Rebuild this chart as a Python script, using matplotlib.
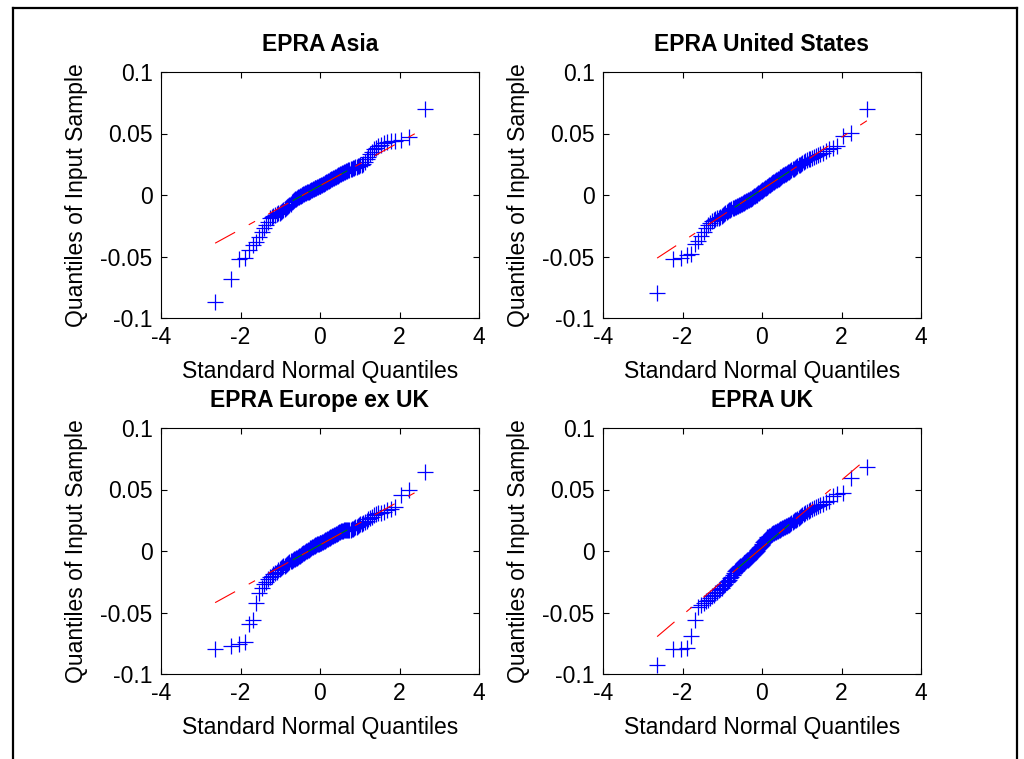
import numpy as np
import matplotlib.pyplot as plt
from matplotlib.lines import Line2D
from statistics import NormalDist

plt.rcParams['font.family'] = ['Liberation Sans', 'DejaVu Sans']
plt.rcParams['lines.scale_dashes'] = False
plt.rcParams['axes.unicode_minus'] = False

# sorted monthly returns (120 obs each)
asia = [-0.087, -0.068, -0.052, -0.0515, -0.045, -0.041, -0.038, -0.034, -0.030, -0.027,
        -0.024, -0.022, -0.019, -0.0175, -0.0170, -0.0165, -0.0158, -0.0150, -0.0145, -0.0138,
        -0.0130, -0.0122, -0.0115, -0.0108, -0.0100, -0.0093, -0.0085, -0.0070, -0.0060, -0.0048,
        -0.0040, -0.0035, -0.0030, -0.0025, -0.0020, -0.0015, -0.0010, -0.0006, -0.0002, 0.0002,
        0.0006, 0.0010, 0.0014, 0.0018, 0.0021, 0.0025, 0.0028, 0.0032, 0.0035, 0.0039,
        0.0042, 0.0046, 0.0049, 0.0053, 0.0056, 0.0060, 0.0063, 0.0067, 0.0070, 0.0074,
        0.0077, 0.0081, 0.0085, 0.0089, 0.0093, 0.0097, 0.0101, 0.0105, 0.0109, 0.0113,
        0.0117, 0.0121, 0.0125, 0.0129, 0.0133, 0.0137, 0.0141, 0.0145, 0.0149, 0.0153,
        0.0157, 0.0161, 0.0165, 0.0169, 0.0173, 0.0177, 0.0181, 0.0185, 0.0189, 0.0193,
        0.0197, 0.0201, 0.0205, 0.0209, 0.0213, 0.0217, 0.0221, 0.0225, 0.0229, 0.0233,
        0.0237, 0.0241, 0.0246, 0.0252, 0.0265, 0.0290, 0.0310, 0.0330, 0.0350, 0.0370,
        0.0385, 0.0400, 0.0410, 0.0420, 0.0430, 0.0438, 0.0442, 0.0450, 0.0470, 0.0700]

usa = [-0.080, -0.052, -0.051, -0.049, -0.048, -0.040, -0.037, -0.033, -0.030, -0.027,
       -0.0245, -0.0225, -0.0215, -0.0205, -0.0198, -0.0190, -0.0183, -0.0176, -0.0168, -0.0160,
       -0.0152, -0.0145, -0.0138, -0.0132, -0.0126, -0.0120, -0.0114, -0.0108, -0.0103, -0.0099,
       -0.0096, -0.0092, -0.0088, -0.0084, -0.0080, -0.0076, -0.0072, -0.0068, -0.0064, -0.0060,
       -0.0056, -0.0052, -0.0048, -0.0044, -0.0040, -0.0036, -0.0031, -0.0026, -0.0021, -0.0016,
       -0.0011, -0.0006, -0.0001, 0.0004, 0.0009, 0.0014, 0.0019, 0.0024, 0.0029, 0.0034,
       0.0039, 0.0044, 0.0049, 0.0054, 0.0059, 0.0064, 0.0069, 0.0074, 0.0079, 0.0084,
       0.0089, 0.0094, 0.0099, 0.0104, 0.0109, 0.0114, 0.0119, 0.0124, 0.0129, 0.0134,
       0.0139, 0.0144, 0.0149, 0.0154, 0.0159, 0.0164, 0.0169, 0.0174, 0.0179, 0.0185,
       0.0191, 0.0197, 0.0203, 0.0209, 0.0215, 0.0221, 0.0227, 0.0233, 0.0240, 0.0247,
       0.0254, 0.0261, 0.0268, 0.0275, 0.0282, 0.0289, 0.0296, 0.0303, 0.0310, 0.0318,
       0.0326, 0.0334, 0.0345, 0.0356, 0.0370, 0.0385, 0.0395, 0.0480, 0.0505, 0.0700]

europe_ex_uk = [-0.080, -0.077, -0.076, -0.074, -0.059, -0.056, -0.042, -0.034, -0.030, -0.027,
                -0.025, -0.023, -0.0215, -0.0200, -0.0188, -0.0177, -0.0167, -0.0158, -0.0150, -0.0142,
                -0.0134, -0.0126, -0.0118, -0.0111, -0.0104, -0.0097, -0.0090, -0.0084, -0.0078, -0.0073,
                -0.0068, -0.0063, -0.0058, -0.0053, -0.0048, -0.0043, -0.0038, -0.0033, -0.0028, -0.0023,
                -0.0018, -0.0013, -0.0008, -0.0003, 0.0002, 0.0007, 0.0012, 0.0017, 0.0022, 0.0027,
                0.0031, 0.0035, 0.0039, 0.0043, 0.0047, 0.0050, 0.0053, 0.0056, 0.0059, 0.0062,
                0.0065, 0.0068, 0.0072, 0.0076, 0.0080, 0.0084, 0.0088, 0.0092, 0.0096, 0.0100,
                0.0104, 0.0108, 0.0112, 0.0116, 0.0120, 0.0124, 0.0128, 0.0132, 0.0136, 0.0140,
                0.0144, 0.0148, 0.0152, 0.0156, 0.0160, 0.0163, 0.0165, 0.0167, 0.0168, 0.0169,
                0.0170, 0.0171, 0.0172, 0.0174, 0.0177, 0.0181, 0.0186, 0.0192, 0.0198, 0.0204,
                0.0210, 0.0216, 0.0222, 0.0228, 0.0234, 0.0240, 0.0258, 0.0270, 0.0280, 0.0290,
                0.0298, 0.0305, 0.0312, 0.0320, 0.0330, 0.0345, 0.0360, 0.0455, 0.0500, 0.0645]

uk = [-0.093, -0.080, -0.0795, -0.079, -0.069, -0.056, -0.0455, -0.0440, -0.0425, -0.0410,
      -0.0395, -0.0380, -0.0368, -0.0355, -0.0343, -0.0331, -0.0320, -0.0309, -0.0298, -0.0287,
      -0.0276, -0.0265, -0.0254, -0.0243, -0.0232, -0.0221, -0.0208, -0.0192, -0.0176, -0.0163,
      -0.0152, -0.0144, -0.0137, -0.0131, -0.0125, -0.0119, -0.0113, -0.0107, -0.0101, -0.0095,
      -0.0089, -0.0083, -0.0077, -0.0071, -0.0064, -0.0057, -0.0050, -0.0043, -0.0036, -0.0029,
      -0.0022, -0.0015, -0.0008, -0.0001, 0.0006, 0.0014, 0.0022, 0.0031, 0.0040, 0.0050,
      0.0060, 0.0070, 0.0080, 0.0090, 0.0098, 0.0105, 0.0111, 0.0116, 0.0121, 0.0126,
      0.0131, 0.0136, 0.0141, 0.0146, 0.0150, 0.0154, 0.0158, 0.0162, 0.0166, 0.0170,
      0.0174, 0.0178, 0.0182, 0.0186, 0.0190, 0.0194, 0.0198, 0.0202, 0.0206, 0.0210,
      0.0215, 0.0221, 0.0228, 0.0235, 0.0242, 0.0249, 0.0256, 0.0263, 0.0270, 0.0278,
      0.0286, 0.0294, 0.0302, 0.0310, 0.0318, 0.0326, 0.0334, 0.0342, 0.0350, 0.0358,
      0.0366, 0.0375, 0.0385, 0.0395, 0.0405, 0.0445, 0.0460, 0.0470, 0.0590, 0.0685]

titles = ['EPRA Asia', 'EPRA United States', 'EPRA Europe ex UK', 'EPRA UK']
samples = [asia, usa, europe_ex_uk, uk]
xticks = [-4, -2, 0, 2, 4]
yticks = [-0.1, -0.05, 0, 0.05, 0.1]
yticklabels = ['-0.1', '-0.05', '0', '0.05', '0.1']
FS = 16.5


def qqplot(ax, sample, title):
    y = np.sort(np.asarray(sample))
    n = len(y)
    nd = NormalDist()
    x = np.array([nd.inv_cdf((i - 0.5) / n) for i in range(1, n + 1)])
    q1x, q3x = np.percentile(x, [25, 75], method='hazen')
    q1y, q3y = np.percentile(y, [25, 75], method='hazen')
    slope = (q3y - q1y) / (q3x - q1x)
    cen = q1y - slope * q1x

    ax.plot(x, y, '+', color=(0, 0, 1), markersize=11.5, markeredgewidth=0.9)
    ax.plot([q1x, q3x], [q1y, q3y], '-', color=(0, 0.5, 0), lw=0.8)
    ext, = ax.plot([x[0], x[-1]], [cen + slope * x[0], cen + slope * x[-1]],
                   color=(1, 0, 0), lw=0.8)
    ext.set_dashes([16.4, 11.2, 5.2, 10.9])

    ax.set_xlim(-4, 4)
    ax.set_ylim(-0.1, 0.1)
    ax.set_xticks(xticks)
    ax.set_yticks(yticks)
    ax.set_yticklabels(yticklabels)
    ax.tick_params(direction='in', top=True, right=True, length=4, width=0.8,
                   labelsize=FS, pad=6)
    for s in ax.spines.values():
        s.set_linewidth(0.8)
    ax.set_title(title, fontsize=FS, fontweight='bold', pad=15)
    ax.set_xlabel('Standard Normal Quantiles', fontsize=FS, labelpad=8)
    ax.set_ylabel('Quantiles of Input Sample', fontsize=FS, labelpad=9)


W, H = 1024, 759
fig = plt.figure(figsize=(W / 100, H / 100), dpi=100)
# axes boxes in pixels: left, top, right, bottom
boxes = [(161, 72, 479, 318), (603, 72, 921, 318),
         (161, 428, 479, 674), (603, 428, 921, 674)]
for (l, t, r, b), smp, ttl in zip(boxes, samples, titles):
    ax = fig.add_axes([l / W, 1 - b / H, (r - l) / W, (b - t) / H])
    qqplot(ax, smp, ttl)

# outer frame (open at the bottom, as in the source)
fx0, fx1, fy1 = 13 / W, 1017 / W, 1 - 8 / H
for xs, ys in [([fx0, fx0], [0, fy1]), ([fx0, fx1], [fy1, fy1]), ([fx1, fx1], [fy1, 0])]:
    fig.add_artist(Line2D(xs, ys, color='black', lw=1.6, transform=fig.transFigure))

fig.savefig('out.png', dpi=100)
